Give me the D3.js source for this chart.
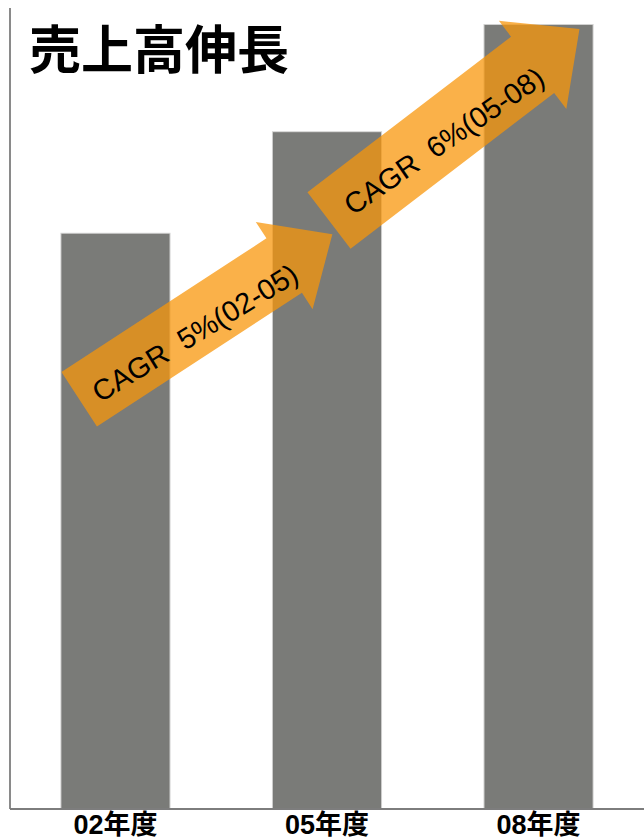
<!DOCTYPE html>
<html>
<head>
<meta charset="utf-8">
<script src="https://cdn.jsdelivr.net/npm/d3@7"></script>
<style>
  html, body { margin: 0; padding: 0; background: #ffffff; }
  svg { display: block; }
</style>
</head>
<body>
<script>
// ---- data ----
const categories = ["02年度", "05年度", "08年度"];
const sales = [71.9, 84.6, 98.0];
const cagrLabels = ["CAGR  5%(02-05)", "CAGR  6%(05-08)"];
const chartTitle = "売上高伸長";

// ---- layout ----
const W = 644, H = 840;
const plot = { left: 10, right: 644, top: 9, bottom: 809 };
const FONT = "'Liberation Sans', Arial, 'Noto Sans CJK JP', sans-serif";

// annotation arrows (geometry of the callout shapes)
const arrowLayout = [
  { tail: [79.2, 399.2], angle: -33.1, len: 244.7, shaftW: 65, headW: 104, headL: 57.5,
    text: [195, 333], textAngle: -31.5 },
  { tail: [329, 220.5], angle: -37.4, len: 256.3, shaftW: 71, headW: 111, headL: 59,
    text: [444, 141], textAngle: -34.5 }
];

const svg = d3.select("body").append("svg")
  .attr("width", W).attr("height", H);

const x = d3.scaleBand()
  .domain(categories)
  .range([plot.left, plot.right])
  .paddingInner(0.489)
  .paddingOuter(0.243);

const y = d3.scaleLinear()
  .domain([0, 100])
  .range([plot.bottom, plot.top]);

// bars
svg.append("g").selectAll("rect")
  .data(categories)
  .join("rect")
  .attr("x", d => x(d))
  .attr("y", (d, i) => y(sales[i]))
  .attr("width", x.bandwidth())
  .attr("height", (d, i) => y(0) - y(sales[i]))
  .attr("fill", "#7a7b78")
  .attr("stroke", "rgba(122,123,120,0.35)")
  .attr("stroke-width", 2);

// axes
svg.append("line")
  .attr("x1", plot.left).attr("x2", plot.left)
  .attr("y1", plot.top - 1).attr("y2", plot.bottom)
  .attr("stroke", "#8a8a8a").attr("stroke-width", 2);

const xAxis = d3.axisBottom(x).tickSize(0).tickPadding(6);
const gx = svg.append("g")
  .attr("transform", `translate(0,${plot.bottom})`)
  .call(xAxis);
gx.select(".domain")
  .attr("d", `M${plot.left},0H${plot.right}`)
  .attr("stroke", "#7d7d7d").attr("stroke-width", 2);
gx.selectAll(".tick text")
  .attr("y", 25)
  .attr("dy", 0)
  .attr("font-family", FONT)
  .attr("font-size", 27)
  .attr("font-weight", 700)
  .attr("fill", "#000");

// title
svg.append("text")
  .attr("x", 29).attr("y", 69)
  .attr("font-family", "'Noto Sans CJK JP', sans-serif")
  .attr("font-weight", 700)
  .attr("font-size", 52)
  .attr("fill", "#000")
  .text(chartTitle);

// CAGR arrows
const arrowPath = a => {
  const w = a.shaftW / 2, h = a.headW / 2, L = a.len;
  return `M0,${-w}L${L},${-w}L${L},${-h}L${L + a.headL},0L${L},${h}L${L},${w}L0,${w}Z`;
};

const ga = svg.append("g");
ga.selectAll("path")
  .data(arrowLayout)
  .join("path")
  .attr("transform", a => `translate(${a.tail[0]},${a.tail[1]}) rotate(${a.angle})`)
  .attr("d", arrowPath)
  .attr("fill", "rgb(248,150,10)")
  .attr("fill-opacity", 0.74);

ga.selectAll("text")
  .data(arrowLayout)
  .join("text")
  .attr("transform", a => `translate(${a.text[0]},${a.text[1]}) rotate(${a.textAngle})`)
  .attr("text-anchor", "middle")
  .attr("dominant-baseline", "central")
  .attr("font-family", FONT)
  .attr("font-size", 29)
  .attr("fill", "#000")
  .style("white-space", "pre")
  .text((a, i) => cagrLabels[i]);
</script>
</body>
</html>
